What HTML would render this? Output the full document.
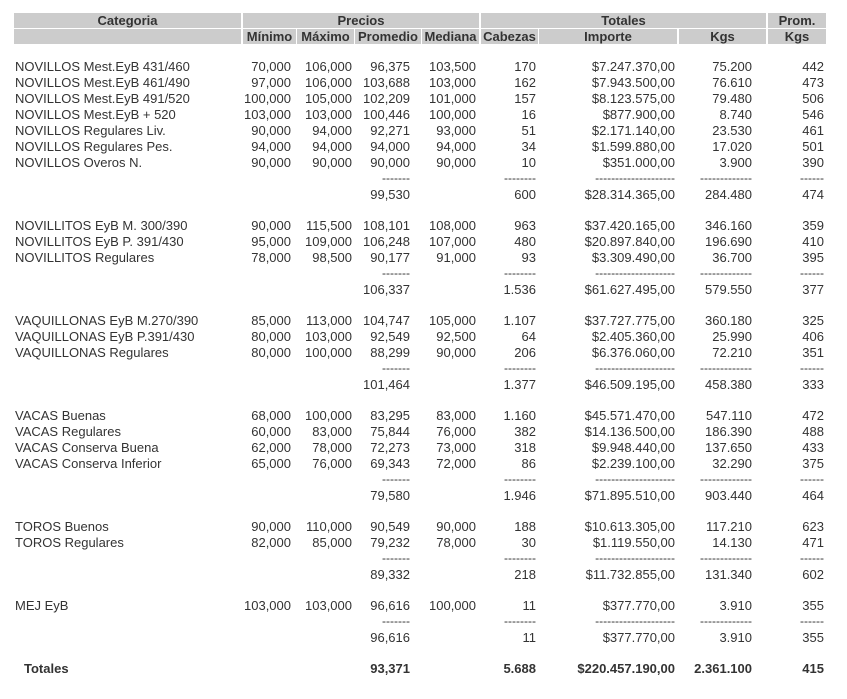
<!DOCTYPE html>
<html><head><meta charset="utf-8"><style>
body{margin:0;width:847px;height:699px;background:#fff;font-family:"Liberation Sans",Arial,sans-serif;font-size:13px;color:#333;position:relative;overflow:hidden}
.h{position:absolute;background:#ccc;font-weight:bold;text-align:center;line-height:15px;height:15px;color:#333}
.r{position:absolute;left:0;width:847px;height:16px;line-height:16px}
.r span{position:absolute;white-space:nowrap}
.c0{left:15px}.c1{right:556px}.c2{right:495px}.c3{right:437px}.c4{right:371px}.c5{right:311px}.c6{right:172px}.c7{right:95px}.c8{right:23px}
.d span{font-size:12px;top:-1px}
.b{font-weight:bold}
</style></head><body>
<div class="h" style="left:14px;top:13px;width:227px">Categoria</div>
<div class="h" style="left:243px;top:13px;width:236px">Precios</div>
<div class="h" style="left:481px;top:13px;width:285px">Totales</div>
<div class="h" style="left:768px;top:13px;width:58px">Prom.</div>
<div class="h" style="left:14px;top:29px;width:227px"></div>
<div class="h" style="left:243px;top:29px;width:53px">Mínimo</div>
<div class="h" style="left:297px;top:29px;width:57px">Máximo</div>
<div class="h" style="left:355px;top:29px;width:66px">Promedio</div>
<div class="h" style="left:422px;top:29px;width:57px">Mediana</div>
<div class="h" style="left:481px;top:29px;width:57px">Cabezas</div>
<div class="h" style="left:539px;top:29px;width:138px">Importe</div>
<div class="h" style="left:679px;top:29px;width:87px">Kgs</div>
<div class="h" style="left:768px;top:29px;width:58px">Kgs</div>

<div class="r" style="top:59px"><span class="c0">NOVILLOS Mest.EyB 431/460</span><span class="c1">70,000</span><span class="c2">106,000</span><span class="c3">96,375</span><span class="c4">103,500</span><span class="c5">170</span><span class="c6">$7.247.370,00</span><span class="c7">75.200</span><span class="c8">442</span></div>
<div class="r" style="top:75px"><span class="c0">NOVILLOS Mest.EyB 461/490</span><span class="c1">97,000</span><span class="c2">106,000</span><span class="c3">103,688</span><span class="c4">103,000</span><span class="c5">162</span><span class="c6">$7.943.500,00</span><span class="c7">76.610</span><span class="c8">473</span></div>
<div class="r" style="top:91px"><span class="c0">NOVILLOS Mest.EyB 491/520</span><span class="c1">100,000</span><span class="c2">105,000</span><span class="c3">102,209</span><span class="c4">101,000</span><span class="c5">157</span><span class="c6">$8.123.575,00</span><span class="c7">79.480</span><span class="c8">506</span></div>
<div class="r" style="top:107px"><span class="c0">NOVILLOS Mest.EyB + 520</span><span class="c1">103,000</span><span class="c2">103,000</span><span class="c3">100,446</span><span class="c4">100,000</span><span class="c5">16</span><span class="c6">$877.900,00</span><span class="c7">8.740</span><span class="c8">546</span></div>
<div class="r" style="top:123px"><span class="c0">NOVILLOS Regulares Liv.</span><span class="c1">90,000</span><span class="c2">94,000</span><span class="c3">92,271</span><span class="c4">93,000</span><span class="c5">51</span><span class="c6">$2.171.140,00</span><span class="c7">23.530</span><span class="c8">461</span></div>
<div class="r" style="top:139px"><span class="c0">NOVILLOS Regulares Pes.</span><span class="c1">94,000</span><span class="c2">94,000</span><span class="c3">94,000</span><span class="c4">94,000</span><span class="c5">34</span><span class="c6">$1.599.880,00</span><span class="c7">17.020</span><span class="c8">501</span></div>
<div class="r" style="top:155px"><span class="c0">NOVILLOS Overos N.</span><span class="c1">90,000</span><span class="c2">90,000</span><span class="c3">90,000</span><span class="c4">90,000</span><span class="c5">10</span><span class="c6">$351.000,00</span><span class="c7">3.900</span><span class="c8">390</span></div>
<div class="r d" style="top:171px"><span class="c3">-------</span><span class="c5">--------</span><span class="c6">--------------------</span><span class="c7">-------------</span><span class="c8">------</span></div>
<div class="r" style="top:187px"><span class="c3">99,530</span><span class="c5">600</span><span class="c6">$28.314.365,00</span><span class="c7">284.480</span><span class="c8">474</span></div>

<div class="r" style="top:218px"><span class="c0">NOVILLITOS EyB M. 300/390</span><span class="c1">90,000</span><span class="c2">115,500</span><span class="c3">108,101</span><span class="c4">108,000</span><span class="c5">963</span><span class="c6">$37.420.165,00</span><span class="c7">346.160</span><span class="c8">359</span></div>
<div class="r" style="top:234px"><span class="c0">NOVILLITOS EyB P. 391/430</span><span class="c1">95,000</span><span class="c2">109,000</span><span class="c3">106,248</span><span class="c4">107,000</span><span class="c5">480</span><span class="c6">$20.897.840,00</span><span class="c7">196.690</span><span class="c8">410</span></div>
<div class="r" style="top:250px"><span class="c0">NOVILLITOS Regulares</span><span class="c1">78,000</span><span class="c2">98,500</span><span class="c3">90,177</span><span class="c4">91,000</span><span class="c5">93</span><span class="c6">$3.309.490,00</span><span class="c7">36.700</span><span class="c8">395</span></div>
<div class="r d" style="top:266px"><span class="c3">-------</span><span class="c5">--------</span><span class="c6">--------------------</span><span class="c7">-------------</span><span class="c8">------</span></div>
<div class="r" style="top:282px"><span class="c3">106,337</span><span class="c5">1.536</span><span class="c6">$61.627.495,00</span><span class="c7">579.550</span><span class="c8">377</span></div>

<div class="r" style="top:313px"><span class="c0">VAQUILLONAS EyB M.270/390</span><span class="c1">85,000</span><span class="c2">113,000</span><span class="c3">104,747</span><span class="c4">105,000</span><span class="c5">1.107</span><span class="c6">$37.727.775,00</span><span class="c7">360.180</span><span class="c8">325</span></div>
<div class="r" style="top:329px"><span class="c0">VAQUILLONAS EyB P.391/430</span><span class="c1">80,000</span><span class="c2">103,000</span><span class="c3">92,549</span><span class="c4">92,500</span><span class="c5">64</span><span class="c6">$2.405.360,00</span><span class="c7">25.990</span><span class="c8">406</span></div>
<div class="r" style="top:345px"><span class="c0">VAQUILLONAS Regulares</span><span class="c1">80,000</span><span class="c2">100,000</span><span class="c3">88,299</span><span class="c4">90,000</span><span class="c5">206</span><span class="c6">$6.376.060,00</span><span class="c7">72.210</span><span class="c8">351</span></div>
<div class="r d" style="top:361px"><span class="c3">-------</span><span class="c5">--------</span><span class="c6">--------------------</span><span class="c7">-------------</span><span class="c8">------</span></div>
<div class="r" style="top:377px"><span class="c3">101,464</span><span class="c5">1.377</span><span class="c6">$46.509.195,00</span><span class="c7">458.380</span><span class="c8">333</span></div>

<div class="r" style="top:408px"><span class="c0">VACAS Buenas</span><span class="c1">68,000</span><span class="c2">100,000</span><span class="c3">83,295</span><span class="c4">83,000</span><span class="c5">1.160</span><span class="c6">$45.571.470,00</span><span class="c7">547.110</span><span class="c8">472</span></div>
<div class="r" style="top:424px"><span class="c0">VACAS Regulares</span><span class="c1">60,000</span><span class="c2">83,000</span><span class="c3">75,844</span><span class="c4">76,000</span><span class="c5">382</span><span class="c6">$14.136.500,00</span><span class="c7">186.390</span><span class="c8">488</span></div>
<div class="r" style="top:440px"><span class="c0">VACAS Conserva Buena</span><span class="c1">62,000</span><span class="c2">78,000</span><span class="c3">72,273</span><span class="c4">73,000</span><span class="c5">318</span><span class="c6">$9.948.440,00</span><span class="c7">137.650</span><span class="c8">433</span></div>
<div class="r" style="top:456px"><span class="c0">VACAS Conserva Inferior</span><span class="c1">65,000</span><span class="c2">76,000</span><span class="c3">69,343</span><span class="c4">72,000</span><span class="c5">86</span><span class="c6">$2.239.100,00</span><span class="c7">32.290</span><span class="c8">375</span></div>
<div class="r d" style="top:472px"><span class="c3">-------</span><span class="c5">--------</span><span class="c6">--------------------</span><span class="c7">-------------</span><span class="c8">------</span></div>
<div class="r" style="top:488px"><span class="c3">79,580</span><span class="c5">1.946</span><span class="c6">$71.895.510,00</span><span class="c7">903.440</span><span class="c8">464</span></div>

<div class="r" style="top:519px"><span class="c0">TOROS Buenos</span><span class="c1">90,000</span><span class="c2">110,000</span><span class="c3">90,549</span><span class="c4">90,000</span><span class="c5">188</span><span class="c6">$10.613.305,00</span><span class="c7">117.210</span><span class="c8">623</span></div>
<div class="r" style="top:535px"><span class="c0">TOROS Regulares</span><span class="c1">82,000</span><span class="c2">85,000</span><span class="c3">79,232</span><span class="c4">78,000</span><span class="c5">30</span><span class="c6">$1.119.550,00</span><span class="c7">14.130</span><span class="c8">471</span></div>
<div class="r d" style="top:551px"><span class="c3">-------</span><span class="c5">--------</span><span class="c6">--------------------</span><span class="c7">-------------</span><span class="c8">------</span></div>
<div class="r" style="top:567px"><span class="c3">89,332</span><span class="c5">218</span><span class="c6">$11.732.855,00</span><span class="c7">131.340</span><span class="c8">602</span></div>

<div class="r" style="top:598px"><span class="c0">MEJ EyB</span><span class="c1">103,000</span><span class="c2">103,000</span><span class="c3">96,616</span><span class="c4">100,000</span><span class="c5">11</span><span class="c6">$377.770,00</span><span class="c7">3.910</span><span class="c8">355</span></div>
<div class="r d" style="top:614px"><span class="c3">-------</span><span class="c5">--------</span><span class="c6">--------------------</span><span class="c7">-------------</span><span class="c8">------</span></div>
<div class="r" style="top:630px"><span class="c3">96,616</span><span class="c5">11</span><span class="c6">$377.770,00</span><span class="c7">3.910</span><span class="c8">355</span></div>

<div class="r b" style="top:661px"><span style="left:24px">Totales</span><span class="c3">93,371</span><span class="c5">5.688</span><span class="c6">$220.457.190,00</span><span class="c7">2.361.100</span><span class="c8">415</span></div>
</body></html>
